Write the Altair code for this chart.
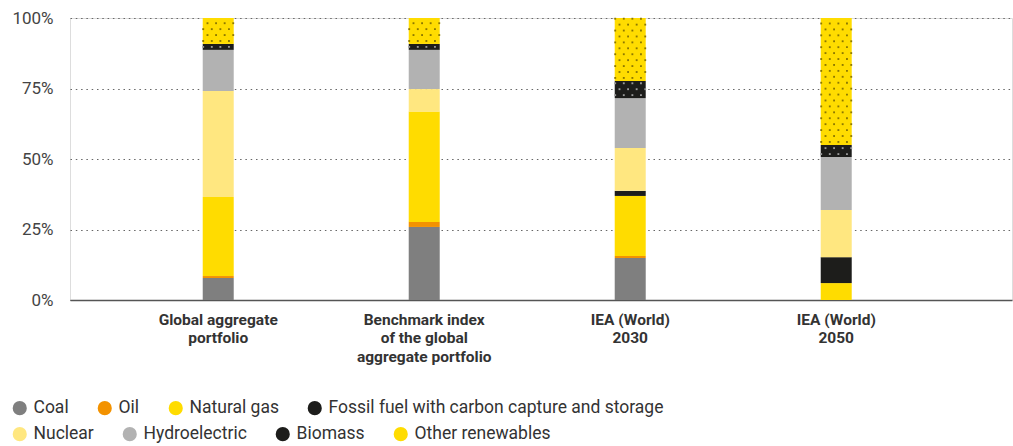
import altair as alt
import pandas as pd

categories = [
    "Global aggregate|portfolio",
    "Benchmark index|of the global|aggregate portfolio",
    "IEA (World)|2030",
    "IEA (World)|2050",
]
sources = [
    "Coal", "Oil", "Natural gas", "Fossil fuel with carbon capture and storage",
    "Nuclear", "Hydroelectric", "Biomass", "Other renewables",
]
colors = ["#7f7f7f", "#f39200", "#ffdc00", "#1d1d1b", "#ffe780", "#b2b2b2", "#1d1d1b", "#ffdc00"]

coal = [7.8, 25.9, 14.9, 0.0]
oil = [0.7, 1.8, 0.7, 0.0]
natural_gas = [28.0, 39.1, 21.3, 6.0]
ccs = [0.0, 0.0, 1.8, 9.2]
nuclear = [37.6, 8.0, 15.2, 16.7]
hydro = [14.6, 13.9, 17.7, 18.8]
biomass = [2.1, 2.1, 6.1, 4.3]
other_renewables = [9.2, 9.2, 22.3, 45.0]

series = [coal, oil, natural_gas, ccs, nuclear, hydro, biomass, other_renewables]
textured = {"Biomass": "#9a9a9a", "Other renewables": "#8c7800"}
dot_step = 2.1

rows, dots = [], []
for ci, cat in enumerate(categories):
    base = 0.0
    for si, src in enumerate(sources):
        v = series[si][ci]
        lo, hi = base, base + v
        base = hi
        if v <= 0:
            continue
        rows.append({"cat": cat, "source": src, "low": lo, "high": hi, "row": si // 4})
        if src in textured:
            k = 0
            y = lo + dot_step / 2
            while y < hi:
                cols = [0, 2, 4, 6] if k % 2 == 0 else [1, 3, 5, 7]
                for c in cols:
                    dots.append({"cat": cat, "y": y, "col": c, "dc": textured[src]})
                k += 1
                y += dot_step

df = pd.DataFrame(rows)
ddf = pd.DataFrame(dots)

xscale = alt.Scale(domain=categories, paddingInner=0.85, paddingOuter=0.7114, align=0.453)
yscale = alt.Scale(domain=[0, 100], nice=False)

x_enc = alt.X(
    "cat:N", scale=xscale, sort=categories, title=None,
    axis=alt.Axis(
        labelExpr="split(datum.value, '|')", labelAngle=0, labelFontWeight="bold",
        labelFontSize=15.5, labelColor="#333333", labelPadding=12, labelLineHeight=18.5,
        labelBaseline="top", ticks=False, domainColor="#555555", domainWidth=1.6,
        labelFont="Roboto",
    ),
)
y_enc = alt.Y(
    "low:Q", scale=yscale, title=None,
    axis=alt.Axis(
        values=[0, 25, 50, 75, 100], labelExpr="datum.value + '%'", domain=False,
        ticks=False, labelPadding=17, labelFontSize=17, labelColor="#444444",
        labelFont="Roboto", grid=True, gridDash=[1.5, 3.8], gridColor="#666666",
        gridWidth=1.2,
    ),
)


def legend_for(y):
    return alt.Legend(
        title=None, orient="none", legendX=-59, legendY=y, direction="horizontal",
        symbolType="circle", symbolSize=200, symbolStrokeWidth=0, labelFontSize=17.5,
        labelColor="#333333", labelFont="Roboto", columnPadding=27, labelOffset=5,
        labelLimit=600,
    )


row1 = sources[:4]
row2 = sources[4:]

bars1 = alt.Chart(df).transform_filter("datum.row == 0").mark_bar(size=31).encode(
    x=x_enc, y=y_enc, y2="high:Q",
    color=alt.Color("source:N", scale=alt.Scale(domain=row1, range=colors[:4]),
                    sort=row1, legend=legend_for(381)),
)
bars2 = alt.Chart(df).transform_filter("datum.row == 1").mark_bar(size=31).encode(
    x=x_enc, y=y_enc, y2="high:Q",
    fill=alt.Fill("source:N", scale=alt.Scale(domain=row2, range=colors[4:]),
                  sort=row2, legend=legend_for(407)),
)

dot_layer = alt.Chart(ddf).mark_square(size=3.5, opacity=1).encode(
    x=alt.X("cat:N", scale=xscale, sort=categories, title=None),
    xOffset=alt.XOffset("col:O", scale=alt.Scale(domain=list(range(8)), paddingInner=0, paddingOuter=0.1)),
    y=alt.Y("y:Q", scale=yscale),
    color=alt.Color("dc:N", scale=None),
)

chart = (
    alt.layer(bars1, bars2, dot_layer)
    .properties(
        width=942, height=282, autosize=alt.AutoSizeParams(type="none"),
        padding={"left": 70, "top": 18, "right": 1, "bottom": 146},
    )
    .configure_view(stroke=None)
    .configure(font="Roboto")
)

chart.save("out.html", embed_options={"renderer": "svg", "actions": False})
